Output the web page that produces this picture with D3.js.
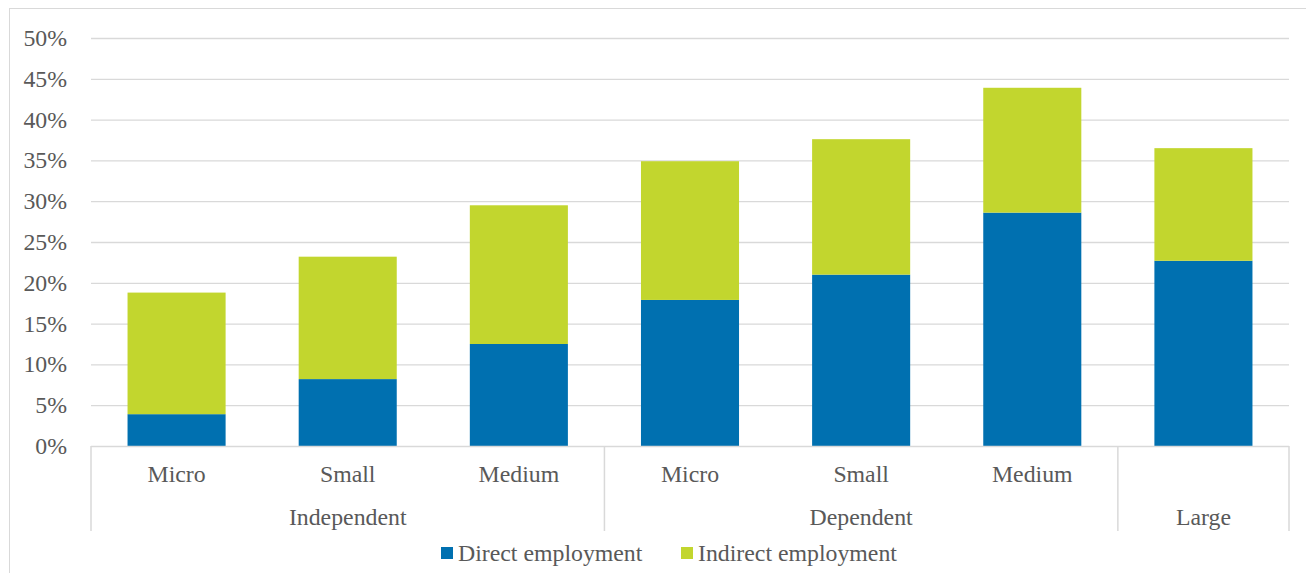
<!DOCTYPE html>
<meta charset="utf-8">
<script src="https://d3js.org/d3.v7.min.js"></script>
<style>
  body { margin: 0; background: #fff; }
</style>
<div id="chart"></div>
<script>
// data (shares in %)
const sizes = ["Micro", "Small", "Medium", "Micro", "Small", "Medium", ""];
const groups = [
  {name: "Independent", from: 0, to: 3},
  {name: "Dependent", from: 3, to: 6},
  {name: "Large", from: 6, to: 7}
];
const direct = [3.9, 8.2, 12.5, 17.9, 21.0, 28.6, 22.7];
const indirect = [14.9, 15.0, 17.0, 17.0, 16.6, 15.3, 13.8];
const yTicks = [0, 5, 10, 15, 20, 25, 30, 35, 40, 45, 50];
const seriesNames = ["Direct employment", "Indirect employment"];
const colors = ["#0070b0", "#c2d62e"];

const W = 1306, H = 573;
const plotLeft = 91, plotRight = 1289, plotTop = 38, base = 446;
const FONT = "Liberation Serif";
const FS = 23.8;

const svg = d3.select("#chart").append("svg")
  .attr("width", W).attr("height", H);

// outer frame
svg.append("rect")
  .attr("x", 9.5).attr("y", 8.5)
  .attr("width", W - 9).attr("height", H)
  .attr("fill", "none").attr("stroke", "#d9d9d9");

const x = d3.scaleBand().domain(d3.range(7)).range([plotLeft, plotRight]).paddingInner(0.427).paddingOuter(0.2135);
const step = (plotRight - plotLeft) / 7;
const y = d3.scaleLinear().domain([0, 50]).range([base, plotTop]);

// gridlines
svg.append("g").selectAll("line").data(yTicks.filter(d => d > 0)).enter()
  .append("line")
  .attr("x1", plotLeft).attr("x2", plotRight)
  .attr("y1", d => y(d) + 0.5).attr("y2", d => y(d) + 0.5)
  .attr("stroke", "#d9d9d9").attr("stroke-width", 1.3);

// y labels
svg.append("g").selectAll("text").data(yTicks).enter()
  .append("text")
  .attr("x", 67).attr("y", d => y(d) + 8)
  .attr("text-anchor", "end")
  .attr("font-family", FONT).attr("font-size", FS).attr("fill", "#595959")
  .text(d => d + "%");

// stacked bars
const rows = direct.map((d, i) => ({i, direct: d, indirect: indirect[i]}));
const stack = d3.stack().keys(["direct", "indirect"])(rows);
svg.append("g").selectAll("g").data(stack).enter()
  .append("g").attr("fill", (d, k) => colors[k])
  .selectAll("rect").data(d => d).enter()
  .append("rect")
  .attr("x", d => x(d.data.i))
  .attr("width", x.bandwidth())
  .attr("y", d => y(d[1]))
  .attr("height", d => y(d[0]) - y(d[1]));

// x axis baseline
svg.append("line")
  .attr("x1", plotLeft).attr("x2", plotRight)
  .attr("y1", base + 0.5).attr("y2", base + 0.5)
  .attr("stroke", "#d9d9d9").attr("stroke-width", 1.5);

// group separators
const seps = [0, 3, 6, 7];
svg.append("g").selectAll("line").data(seps).enter()
  .append("line")
  .attr("x1", d => plotLeft + d * step).attr("x2", d => plotLeft + d * step)
  .attr("y1", base).attr("y2", 531)
  .attr("stroke", "#d9d9d9").attr("stroke-width", 1.5);

// size labels
svg.append("g").selectAll("text").data(sizes).enter()
  .append("text")
  .attr("x", (d, i) => x(i) + x.bandwidth() / 2)
  .attr("y", 482)
  .attr("text-anchor", "middle")
  .attr("font-family", FONT).attr("font-size", FS).attr("fill", "#595959")
  .text(d => d);

// group labels
svg.append("g").selectAll("text").data(groups).enter()
  .append("text")
  .attr("x", d => plotLeft + (d.from + d.to) / 2 * step)
  .attr("y", 525)
  .attr("text-anchor", "middle")
  .attr("font-family", FONT).attr("font-size", FS).attr("fill", "#595959")
  .text(d => d.name);

// legend
const legendX = [441, 681];
const lg = svg.append("g").selectAll("g").data(seriesNames).enter()
  .append("g").attr("transform", (d, i) => `translate(${legendX[i]},547)`);
lg.append("rect").attr("width", 12).attr("height", 12).attr("fill", (d, i) => colors[i]);
lg.append("text").attr("x", 17).attr("y", 14)
  .attr("font-family", FONT).attr("font-size", FS).attr("fill", "#595959")
  .text(d => d);
</script>
